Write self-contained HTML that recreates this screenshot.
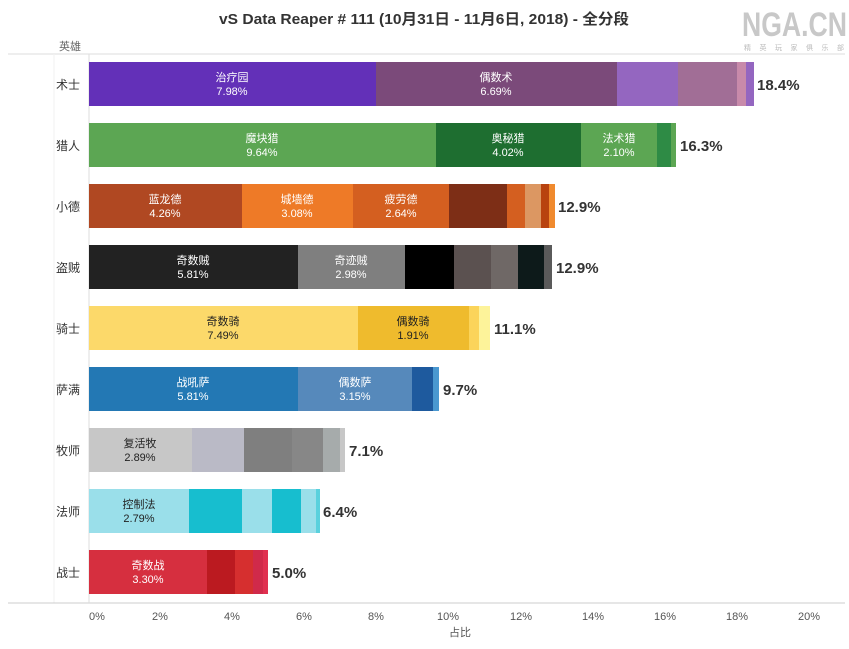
<!DOCTYPE html>
<html><head><meta charset="utf-8"><style>
body{margin:0;background:#fff;}
svg{display:block;font-family:"Liberation Sans","Noto Sans CJK SC",sans-serif;}
</style></head><body>
<svg width="849" height="649" xmlns="http://www.w3.org/2000/svg">
<text x="424" y="24" text-anchor="middle" font-size="15" fill="#333" font-weight="bold" textLength="410" lengthAdjust="spacingAndGlyphs">vS Data Reaper # 111 (10月31日 - 11月6日, 2018) - 全分段</text>
<text x="742" y="36" font-size="34" font-weight="bold" fill="#c8c8c8" textLength="105" lengthAdjust="spacingAndGlyphs">NGA.CN</text>
<text x="744" y="50" font-size="7" fill="#bbb" textLength="100" lengthAdjust="spacing">精英玩家俱乐部</text>
<text x="70" y="50" text-anchor="middle" font-size="11" fill="#666">英雄</text>
<line x1="8" y1="54" x2="845" y2="54" stroke="#ddd"/>
<line x1="54" y1="54" x2="54" y2="603" stroke="#f2f2f2"/>
<line x1="8" y1="603" x2="845" y2="603" stroke="#ccc"/>
<line x1="89" y1="54" x2="89" y2="603" stroke="#ddd"/>
<g font-size="11" fill="#555" text-anchor="middle">
<text x="97" y="620">0%</text><text x="160" y="620">2%</text><text x="232" y="620">4%</text><text x="304" y="620">6%</text><text x="376" y="620">8%</text><text x="448" y="620">10%</text><text x="521" y="620">12%</text><text x="593" y="620">14%</text><text x="665" y="620">16%</text><text x="737" y="620">18%</text><text x="809" y="620">20%</text>
<text x="460" y="636">占比</text>
</g>
<g font-size="12" fill="#333" text-anchor="end">
<text x="80" y="89">术士</text><text x="80" y="150">猎人</text><text x="80" y="211">小德</text><text x="80" y="272">盗贼</text><text x="80" y="333">骑士</text><text x="80" y="394">萨满</text><text x="80" y="455">牧师</text><text x="80" y="516">法师</text><text x="80" y="577">战士</text>
</g>
<rect x="89" y="62" width="287" height="44" fill="#6330b8"/>
<rect x="376" y="62" width="241" height="44" fill="#7b4a7a"/>
<rect x="617" y="62" width="61" height="44" fill="#9466c0"/>
<rect x="678" y="62" width="59" height="44" fill="#a16e96"/>
<rect x="737" y="62" width="9" height="44" fill="#c88aaa"/>
<rect x="746" y="62" width="8" height="44" fill="#9466c0"/>
<rect x="89" y="123" width="347" height="44" fill="#5ca653"/>
<rect x="436" y="123" width="145" height="44" fill="#1e6e30"/>
<rect x="581" y="123" width="76" height="44" fill="#5ca653"/>
<rect x="657" y="123" width="14" height="44" fill="#2e8b45"/>
<rect x="671" y="123" width="5" height="44" fill="#5ca653"/>
<rect x="89" y="184" width="153" height="44" fill="#b04822"/>
<rect x="242" y="184" width="111" height="44" fill="#ee7a27"/>
<rect x="353" y="184" width="96" height="44" fill="#d45f20"/>
<rect x="449" y="184" width="58" height="44" fill="#7d2e16"/>
<rect x="507" y="184" width="18" height="44" fill="#d45f20"/>
<rect x="525" y="184" width="16" height="44" fill="#dc9762"/>
<rect x="541" y="184" width="8" height="44" fill="#b8420f"/>
<rect x="549" y="184" width="6" height="44" fill="#f08a2e"/>
<rect x="89" y="245" width="209" height="44" fill="#222"/>
<rect x="298" y="245" width="107" height="44" fill="#7f7f7f"/>
<rect x="405" y="245" width="49" height="44" fill="#000"/>
<rect x="454" y="245" width="37" height="44" fill="#5b5150"/>
<rect x="491" y="245" width="27" height="44" fill="#6f6866"/>
<rect x="518" y="245" width="26" height="44" fill="#0d1a1a"/>
<rect x="544" y="245" width="8" height="44" fill="#5a5a5a"/>
<rect x="89" y="306" width="269" height="44" fill="#fcd96a"/>
<rect x="358" y="306" width="111" height="44" fill="#efbb2d"/>
<rect x="469" y="306" width="10" height="44" fill="#fbd45a"/>
<rect x="479" y="306" width="11" height="44" fill="#fdf39a"/>
<rect x="89" y="367" width="209" height="44" fill="#2378b4"/>
<rect x="298" y="367" width="114" height="44" fill="#5689bb"/>
<rect x="412" y="367" width="21" height="44" fill="#1e5a9e"/>
<rect x="433" y="367" width="6" height="44" fill="#4a98d0"/>
<rect x="89" y="428" width="103" height="44" fill="#c7c7c7"/>
<rect x="192" y="428" width="52" height="44" fill="#babac6"/>
<rect x="244" y="428" width="48" height="44" fill="#7f7f7f"/>
<rect x="292" y="428" width="31" height="44" fill="#878787"/>
<rect x="323" y="428" width="17" height="44" fill="#a6abab"/>
<rect x="340" y="428" width="5" height="44" fill="#c7c7c7"/>
<rect x="89" y="489" width="100" height="44" fill="#9adfea"/>
<rect x="189" y="489" width="53" height="44" fill="#17becf"/>
<rect x="242" y="489" width="30" height="44" fill="#9adfea"/>
<rect x="272" y="489" width="29" height="44" fill="#17becf"/>
<rect x="301" y="489" width="15" height="44" fill="#9adfea"/>
<rect x="316" y="489" width="4" height="44" fill="#5ad1dd"/>
<rect x="89" y="550" width="118" height="44" fill="#d62f3f"/>
<rect x="207" y="550" width="28" height="44" fill="#bb1a20"/>
<rect x="235" y="550" width="18" height="44" fill="#d62f2f"/>
<rect x="253" y="550" width="10" height="44" fill="#d02a4a"/>
<rect x="263" y="550" width="5" height="44" fill="#e03050"/>
<g font-size="11" text-anchor="middle" fill="#fff">
<text x="232" y="81">治疗园</text><text x="232" y="95">7.98%</text>
<text x="496" y="81">偶数术</text><text x="496" y="95">6.69%</text>
<text x="262" y="142">魔块猎</text><text x="262" y="156">9.64%</text>
<text x="508" y="142">奥秘猎</text><text x="508" y="156">4.02%</text>
<text x="619" y="142">法术猎</text><text x="619" y="156">2.10%</text>
<text x="165" y="203">蓝龙德</text><text x="165" y="217">4.26%</text>
<text x="297" y="203">城墙德</text><text x="297" y="217">3.08%</text>
<text x="401" y="203">疲劳德</text><text x="401" y="217">2.64%</text>
<text x="193" y="264">奇数贼</text><text x="193" y="278">5.81%</text>
<text x="351" y="264">奇迹贼</text><text x="351" y="278">2.98%</text>
<text x="193" y="386">战吼萨</text><text x="193" y="400">5.81%</text>
<text x="355" y="386">偶数萨</text><text x="355" y="400">3.15%</text>
<text x="148" y="569">奇数战</text><text x="148" y="583">3.30%</text>
</g>
<g font-size="11" text-anchor="middle" fill="#222">
<text x="223" y="325">奇数骑</text><text x="223" y="339">7.49%</text>
<text x="413" y="325">偶数骑</text><text x="413" y="339">1.91%</text>
<text x="140" y="447">复活牧</text><text x="140" y="461">2.89%</text>
<text x="139" y="508">控制法</text><text x="139" y="522">2.79%</text>
</g>
<g font-size="15" font-weight="bold" fill="#333">
<text x="757" y="90">18.4%</text><text x="680" y="151">16.3%</text><text x="558" y="212">12.9%</text><text x="556" y="273">12.9%</text><text x="494" y="334">11.1%</text><text x="443" y="395">9.7%</text><text x="349" y="456">7.1%</text><text x="323" y="517">6.4%</text><text x="272" y="578">5.0%</text>
</g>
</svg>
</body></html>
